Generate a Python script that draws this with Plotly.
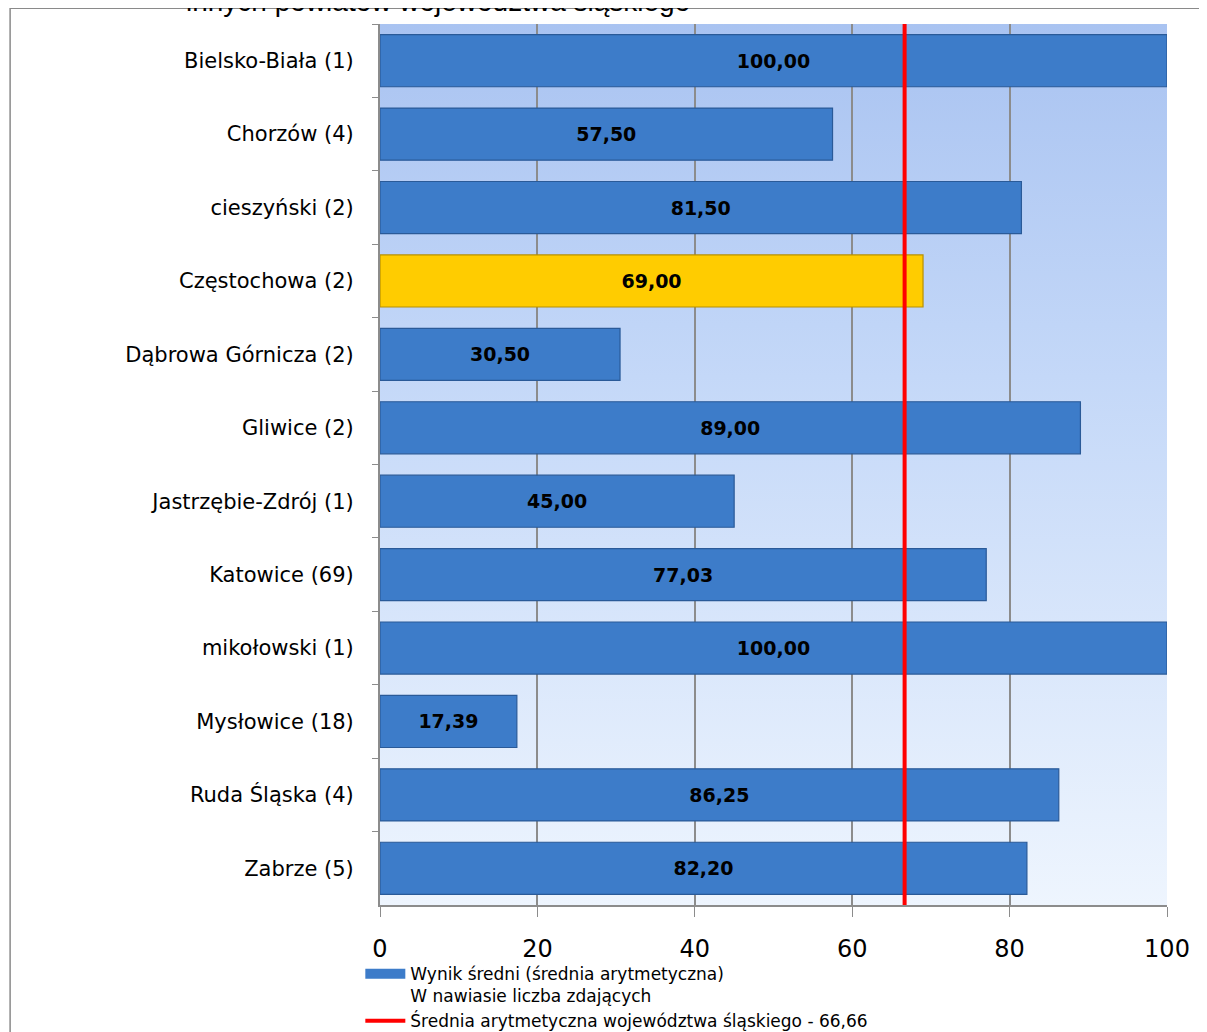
import base64
import plotly.graph_objects as go

# Dane
powiaty = [
    "Bielsko-Biała (1)",
    "Chorzów (4)",
    "cieszyński (2)",
    "Częstochowa (2)",
    "Dąbrowa Górnicza (2)",
    "Gliwice (2)",
    "Jastrzębie-Zdrój (1)",
    "Katowice (69)",
    "mikołowski (1)",
    "Mysłowice (18)",
    "Ruda Śląska (4)",
    "Zabrze (5)",
]
wyniki = [100.00, 57.50, 81.50, 69.00, 30.50, 89.00, 45.00, 77.03, 100.00, 17.39, 86.25, 82.20]
srednia_woj = 66.66
wyrozniony = "Częstochowa (2)"
x_ticks = [0, 20, 40, 60, 80, 100]

etykiety = [f"{w:.2f}".replace(".", ",") for w in wyniki]
kolory = ["#ffcc00" if p == wyrozniony else "#3d7cc9" for p in powiaty]
obrysy = ["#b89000" if p == wyrozniony else "#2a5a98" for p in powiaty]

# Tło obszaru wykresu - gradient jako obraz SVG
svg = (
    '<svg xmlns="http://www.w3.org/2000/svg" width="100" height="100" preserveAspectRatio="none">'
    '<defs><linearGradient id="g" x1="0" y1="0" x2="0" y2="1">'
    '<stop offset="0" stop-color="#a9c3f1"/>'
    '<stop offset="0.4" stop-color="#c4d8f8"/>'
    '<stop offset="1" stop-color="#eef5fe"/>'
    '</linearGradient></defs>'
    '<rect width="100" height="100" fill="url(#g)"/></svg>'
)
tlo = "data:image/svg+xml;base64," + base64.b64encode(svg.encode("utf-8")).decode("ascii")

fig = go.Figure()

fig.add_trace(go.Bar(
    y=powiaty,
    x=wyniki,
    orientation="h",
    showlegend=False,
    marker=dict(color=kolory, line=dict(color=obrysy, width=1.2)),
    text=etykiety,
    textposition="inside",
    insidetextanchor="middle",
    textangle=0,
    textfont=dict(family="DejaVu Sans", size=19, color="black", weight="bold"),
    hoverinfo="x+y",
))

# Wpis legendy dla słupków (szeroki prostokąt jak w oryginale)
fig.add_trace(go.Scatter(
    x=[None], y=[None],
    mode="lines",
    line=dict(color="#3d7cc9", width=11),
    name="Wynik średni (średnia arytmetyczna)<br>W nawiasie liczba zdających",
))

# Linia średniej województwa
fig.add_trace(go.Scatter(
    x=[srednia_woj, srednia_woj],
    y=[0, 1],
    yaxis="y2",
    mode="lines",
    line=dict(color="#ff0000", width=4),
    name="Średnia arytmetyczna województwa śląskiego - 66,66",
))

fig.update_layout(
    width=1199,
    height=1024,
    margin=dict(l=372, r=40, t=16, b=127, autoexpand=False),
    paper_bgcolor="white",
    plot_bgcolor="rgba(0,0,0,0)",
    bargap=0.29,
    font=dict(family="DejaVu Sans", color="black"),
    showlegend=True,
    legend=dict(
        x=-0.025, y=-0.058, xanchor="left", yanchor="top",
        font=dict(family="DejaVu Sans", size=17, color="black"),
        bgcolor="rgba(0,0,0,0)",
        tracegroupgap=0,
        valign="top",
        itemwidth=40,
    ),
    xaxis=dict(
        range=[0, 100],
        tickvals=x_ticks,
        ticktext=[str(t) for t in x_ticks],
        tickfont=dict(family="DejaVu Sans", size=24, color="black"),
        ticks="outside", ticklen=10, tickcolor="#8c8c8c",
        ticklabelstandoff=11,
        showgrid=True, gridcolor="#8c8c8c", gridwidth=1.5,
        showline=True, linecolor="#8c8c8c", linewidth=2,
        zeroline=False, fixedrange=True,
    ),
    yaxis=dict(
        autorange="reversed",
        tickfont=dict(family="DejaVu Sans", size=21, color="black"),
        ticks="outside", ticklen=6, tickcolor="#8c8c8c",
        tickson="boundaries",
        ticklabelstandoff=20,
        showline=True, linecolor="#8c8c8c", linewidth=2,
        showgrid=False, fixedrange=True,
    ),
    yaxis2=dict(
        overlaying="y", range=[0, 1], visible=False, fixedrange=True,
    ),
    images=[dict(
        source=tlo, xref="paper", yref="paper",
        x=0, y=1, sizex=1, sizey=1, sizing="stretch",
        xanchor="left", yanchor="top", layer="below",
    )],
    shapes=[dict(
        type="rect", xref="paper", yref="paper",
        x0=-0.470, x1=1.2, y0=-0.2, y1=1.018,
        line=dict(color="#8a8a8a", width=1.5),
        fillcolor="rgba(0,0,0,0)", layer="below",
    )],
    annotations=[dict(
        text="innych powiatów województwa śląskiego",
        xref="paper", yref="paper", x=0.0737, y=1.025,
        xanchor="center", yanchor="middle", showarrow=False,
        font=dict(family="Liberation Sans", size=28, color="black"),
    )],
)

fig.write_html("out.html")
